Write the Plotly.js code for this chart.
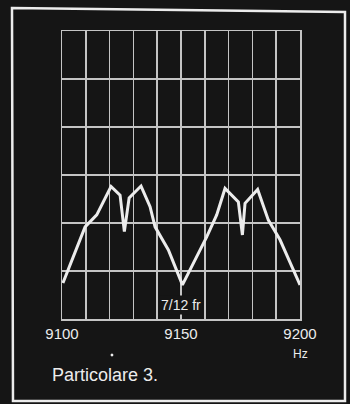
<!DOCTYPE html>
<html>
<head>
<meta charset="utf-8">
<script src="https://cdn.plot.ly/plotly-3.0.1.min.js"></script>
<style>
html,body{margin:0;padding:0;background:#151515;}
#chart{width:350px;height:404px;}
</style>
</head>
<body>
<div id="chart"></div>
<script>
// Frequency (Hz) and response amplitude (grid divisions)
const freqHz = [9100.4, 9109.7, 9114.6, 9120.6, 9124.4, 9126.2, 9128.2, 9131.4, 9133.2, 9137.0, 9139.1, 9144.7, 9150.6,
                9160.8, 9165.0, 9168.5, 9174.1, 9175.8, 9176.9, 9182.2, 9186.7, 9191.6, 9200.0];
const amplitude = [0.75, 1.92, 2.17, 2.76, 2.58, 1.82, 2.52, 2.67, 2.77, 2.34, 1.92, 1.44, 0.71,
                   1.71, 2.17, 2.72, 2.44, 1.75, 2.41, 2.70, 2.06, 1.65, 0.71];
const xTickVals = [9100, 9150, 9200];
const xTickText = ["9100", "9150", "9200"];
const markerLabel = "7/12 fr";
const unitLabel = "Hz";
const captionText = "Particolare 3.";

const BG = "#151515";
const GRID = "#c4c4c4";
const FG = "#ececec";

const trace = {
  x: freqHz, y: amplitude, type: "scatter", mode: "lines",
  line: {color: FG, width: 3}, hoverinfo: "skip"
};

const layout = {
  width: 350, height: 404,
  margin: {l: 62, r: 50, t: 31, b: 85},
  paper_bgcolor: BG, plot_bgcolor: BG,
  showlegend: false,
  font: {family: "Liberation Sans, Arial, sans-serif", color: FG},
  xaxis: {
    range: [9100, 9200], tickvals: xTickVals, ticktext: xTickText,
    showgrid: true, gridcolor: GRID, gridwidth: 1.5,
    minor: {dtick: 10, showgrid: true, gridcolor: GRID, gridwidth: 1.5},
    showline: true, mirror: true, linecolor: GRID, linewidth: 1.5,
    zeroline: false, ticks: "", ticklabelstandoff: 0,
    tickfont: {size: 15, color: FG, family: "Liberation Sans, Arial, sans-serif"},
    fixedrange: true
  },
  yaxis: {
    range: [0, 6], dtick: 1, showticklabels: false,
    showgrid: true, gridcolor: GRID, gridwidth: 1.5,
    showline: true, mirror: true, linecolor: GRID, linewidth: 1.5,
    zeroline: false, ticks: "", fixedrange: true
  },
  annotations: [
    {x: 9150, y: 0.29, xref: "x", yref: "y", text: markerLabel, showarrow: false,
     font: {size: 14, color: FG}, bgcolor: BG, borderpad: 1},
    {x: 1.0, y: -0.1215, xref: "paper", yref: "paper", text: unitLabel, showarrow: false,
     xanchor: "center", yanchor: "middle", font: {size: 12, color: FG}},
    {x: -0.0504, y: -0.1944, xref: "paper", yref: "paper", text: captionText, showarrow: false,
     xanchor: "left", yanchor: "middle", font: {size: 18, color: FG}}
  ],
  shapes: [
    {type: "path", xref: "paper", yref: "paper",
     path: "M -0.2101 1.0799 L 1.1891 1.0660 L 1.1891 -0.2847 L -0.2059 -0.2847 Z",
     line: {color: FG, width: 2.5}},
    {type: "circle", xref: "paper", yref: "paper",
     x0: 0.204, x1: 0.216, y0: -0.1302, y1: -0.1198,
     fillcolor: FG, line: {width: 0}}
  ]
};

Plotly.newPlot("chart", [trace], layout, {displayModeBar: false, staticPlot: true});
</script>
</body>
</html>
